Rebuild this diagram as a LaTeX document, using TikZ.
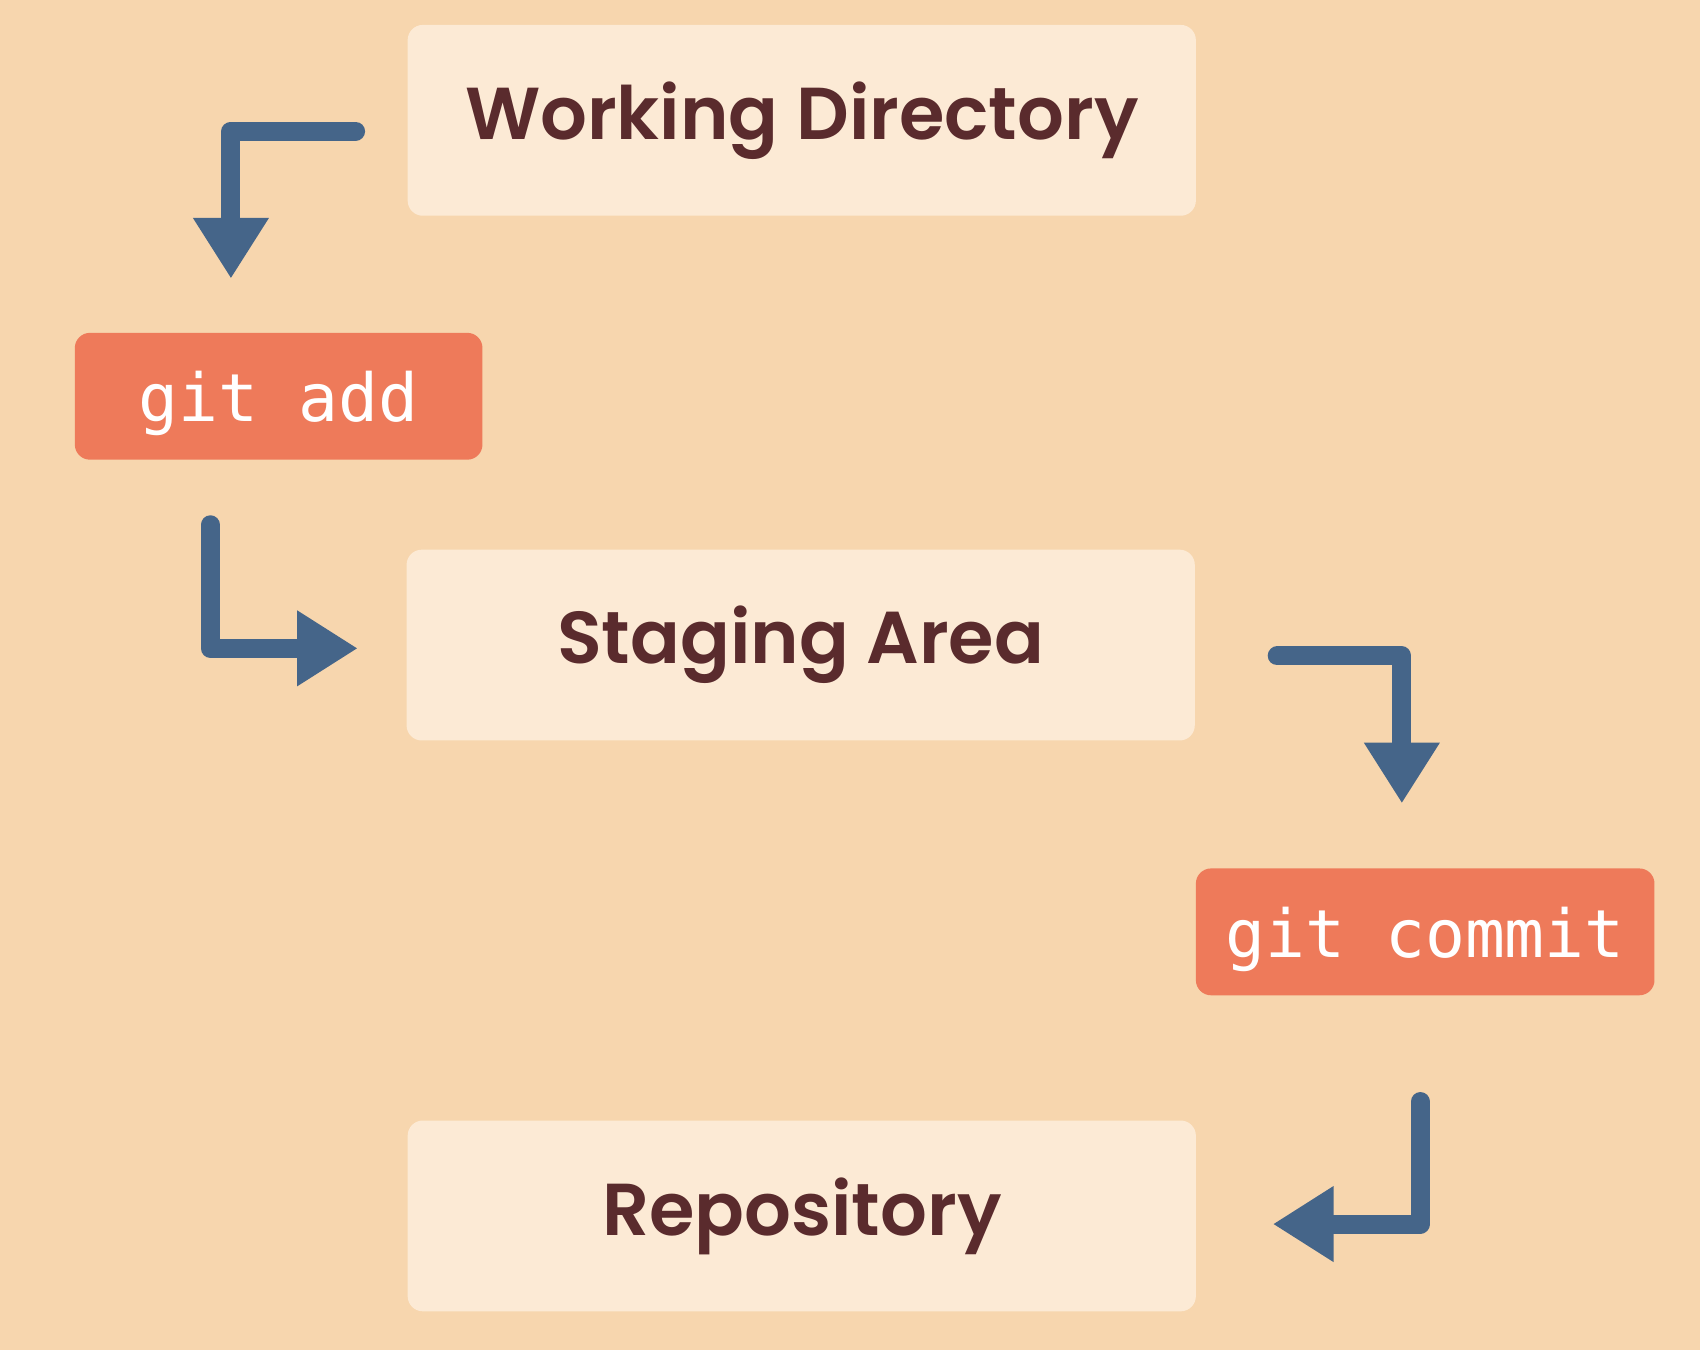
\documentclass[tikz,border=0pt]{standalone}
\usepackage{fontspec}
\usetikzlibrary{arrows.meta}
\newfontfamily\boxfont{Poppins SemiBold}
\newfontfamily\cmdfont{DejaVu Sans Mono}
\definecolor{bg}{HTML}{F7D6AE}
\definecolor{boxfill}{HTML}{FCEAD5}
\definecolor{cmdfill}{HTML}{EE7A5A}
\definecolor{arrowblue}{HTML}{456589}
\definecolor{ink}{HTML}{5A2B2D}

\begin{document}
\begin{tikzpicture}
  [
    area node/.style={rectangle, rounded corners=0.14cm, fill=boxfill, minimum width=7.27cm, minimum height=1.76cm, text=ink, font=\boxfont\fontsize{19.3}{23}\selectfont},
    cmd node/.style={rectangle, rounded corners=0.14cm, fill=cmdfill, minimum height=1.17cm, text depth=0pt, text=white, font=\cmdfont\fontsize{17.4}{20}\selectfont}
    ]
   \tikzstyle{flow} = [line width=0.175cm, draw=arrowblue, line cap=round, line join=round, -{Triangle[length=0.56cm,width=0.66cm]}]

  \fill[bg] (0,0) rectangle (15.68,-12.45);

  \node[area node] (wd) at (7.395,-1.11) {Working Directory};
  \node[cmd node, minimum width=3.76cm] (add) at (2.57,-3.655) {git add};
  \node[area node] (stage) at (7.385,-5.95) {Staging Area};
  \node[cmd node, minimum width=4.23cm] (commit) at (13.145,-8.595) {git commit};
  \node[area node] (repo) at (7.395,-11.215) {Repository};

  \coordinate (wd out) at (3.28,-1.21);
  \coordinate (add in) at (2.13,-2.57);
  \coordinate (add out) at (1.94,-4.84);
  \coordinate (stage in) at (3.30,-5.98);
  \coordinate (stage out) at (11.78,-6.05);
  \coordinate (commit in) at (12.93,-7.41);
  \coordinate (commit out) at (13.10,-10.16);
  \coordinate (repo in) at (11.74,-11.29);

  \draw[flow] (wd out) -| (add in);
  \draw[flow] (add out) |- (stage in);
  \draw[flow] (stage out) -| (commit in);
  \draw[flow] (commit out) |- (repo in);

\end{tikzpicture}
\end{document}
